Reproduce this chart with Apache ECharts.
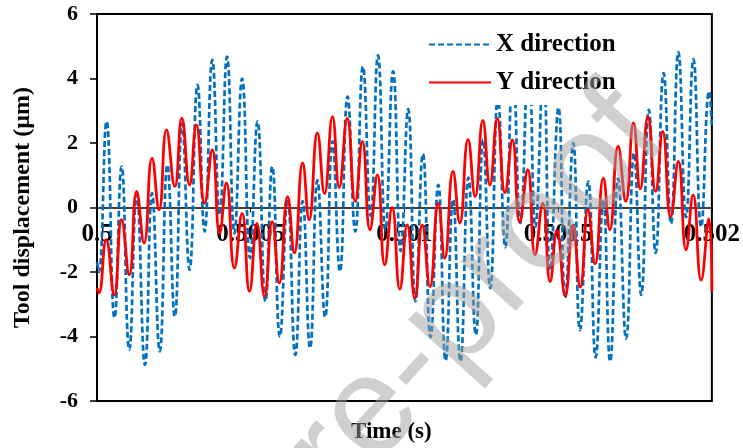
<!DOCTYPE html>
<html>
<head>
<meta charset="utf-8">
<script src="https://cdn.jsdelivr.net/npm/echarts@6/dist/echarts.min.js"></script>
<style>
  html, body { margin: 0; padding: 0; background: #fff; }
  #chart { width: 743px; height: 448px; }
</style>
</head>
<body>
<div id="chart"></div>
<script>
// X direction: peaks and troughs (time s, displacement um)
var xTime = [0.500000, 0.500006, 0.500031, 0.500057, 0.500080, 0.500105, 0.500129, 0.500156,
  0.500179, 0.500204, 0.500229, 0.500253, 0.500277, 0.500301, 0.500327, 0.500350,
  0.500375, 0.500399, 0.500423, 0.500447, 0.500472, 0.500498, 0.500522, 0.500548,
  0.500570, 0.500595, 0.500620, 0.500645, 0.500669, 0.500693, 0.500717, 0.500742,
  0.500766, 0.500790, 0.500815, 0.500840, 0.500865, 0.500890, 0.500914, 0.500938,
  0.500963, 0.500988, 0.501012, 0.501036, 0.501060, 0.501085, 0.501110, 0.501134,
  0.501158, 0.501182, 0.501208, 0.501232, 0.501256, 0.501279, 0.501304, 0.501328,
  0.501353, 0.501377, 0.501404, 0.501426, 0.501452, 0.501474, 0.501501, 0.501523,
  0.501549, 0.501571, 0.501598, 0.501622, 0.501647, 0.501669, 0.501695, 0.501721,
  0.501747, 0.501770, 0.501795, 0.501817, 0.501843, 0.501867, 0.501891, 0.501916,
  0.501940, 0.501965, 0.501991, 0.502000];
var xDisp = [-1.7, -2.0, 2.67, -3.42, 1.27, -4.41, 0.40, -4.88,
  0.45, -4.46, 1.32, -3.38, 2.6, -1.93, 3.8, -0.74,
  4.58, -0.23, 4.68, -0.8, 4.0, -1.57, 2.67, -2.91,
  1.27, -4.0, 0.25, -4.57, 0.2, -4.36, 0.84, -3.4,
  2.05, -1.98, 3.44, -0.74, 4.37, -0.25, 4.72, -0.7,
  4.22, -1.35, 3.05, -2.91, 1.66, -4.02, 0.7, -4.75,
  0.25, -4.77, 0.93, -3.95, 2.1, -2.5, 3.4, -1.23,
  4.35, -0.48, 4.7, -0.6, 4.25, -1.93, 3.1, -2.8,
  2.0, -3.8, 0.8, -4.65, 0.25, -4.77, 0.9, -4.07,
  1.69, -2.71, 3.03, -1.41, 4.17, -0.5, 4.82, -0.3,
  4.6, -0.6, 3.6, 2.5];

// Y direction
var yTime = [0.500000, 0.500006, 0.500030, 0.500056, 0.500080, 0.500105, 0.500129, 0.500153,
  0.500179, 0.500202, 0.500226, 0.500253, 0.500276, 0.500301, 0.500323, 0.500350,
  0.500375, 0.500399, 0.500421, 0.500447, 0.500472, 0.500496, 0.500520, 0.500545,
  0.500570, 0.500593, 0.500620, 0.500642, 0.500669, 0.500690, 0.500717, 0.500740,
  0.500766, 0.500788, 0.500814, 0.500840, 0.500863, 0.500888, 0.500912, 0.500936,
  0.500960, 0.500985, 0.501009, 0.501034, 0.501058, 0.501083, 0.501110, 0.501131,
  0.501158, 0.501180, 0.501207, 0.501230, 0.501255, 0.501278, 0.501302, 0.501327,
  0.501351, 0.501375, 0.501401, 0.501425, 0.501450, 0.501474, 0.501496, 0.501523,
  0.501548, 0.501572, 0.501597, 0.501620, 0.501647, 0.501668, 0.501695, 0.501720,
  0.501745, 0.501767, 0.501792, 0.501817, 0.501840, 0.501866, 0.501891, 0.501916,
  0.501939, 0.501965, 0.501990, 0.502000];
var yDisp = [-2.5, -2.65, -1.0, -2.71, -0.38, -2.09, 0.5, -1.1,
  1.53, -0.07, 2.41, 0.65, 2.77, 0.7, 2.56, 0.13,
  1.79, -0.8, 0.76, -1.88, -0.18, -2.6, -0.49, -2.76,
  -0.44, -2.34, 0.34, -1.41, 1.38, -0.38, 2.31, 0.43,
  2.82, 0.62, 2.76, 0.19, 2.05, -0.69, 1.01, -1.78,
  0.0, -2.53, -0.54, -2.81, -0.54, -2.46, 0.13, -1.57,
  1.12, -0.48, 2.11, 0.34, 2.7, 0.7, 2.76, 0.46,
  2.1, -0.45, 1.17, -1.47, 0.13, -2.3, -0.7, -2.74,
  -0.54, -2.47, -0.07, -1.75, 0.91, -0.69, 1.9, 0.19,
  2.62, 0.58, 2.81, 0.5, 2.36, -0.28, 1.43, -1.31,
  0.39, -2.25, -0.35, -2.6];

var xTicks = [0.5, 0.5005, 0.501, 0.5015, 0.502];

function pairs(t, v) {
  var out = [];
  for (var i = 0; i < t.length; i++) out.push([t[i], v[i]]);
  return out;
}

var serif = '"Liberation Serif", "Times New Roman", serif';
var chart = echarts.init(document.getElementById('chart'));

var option = {
  animation: false,
  grid: {
    left: 97, right: 29, top: 14, bottom: 47,
    show: true, borderColor: '#000', borderWidth: 2, backgroundColor: 'transparent'
  },
  legend: {
    orient: 'vertical',
    left: 422, top: 22,
    padding: [10, 8, 10, 6],
    itemWidth: 62, itemHeight: 14, itemGap: 13,
    backgroundColor: '#fff',
    itemStyle: { opacity: 0 },
    textStyle: { fontFamily: serif, fontWeight: 'bold', fontSize: 25, color: '#000' },
    data: ['X direction', 'Y direction']
  },
  xAxis: {
    type: 'value',
    min: 0.5, max: 0.502, interval: 0.0005,
    // the axis sits on y = 0 (middle of the grid)
    offset: -193.5,
    axisLine: { onZero: false, lineStyle: { color: '#000', width: 1.5 } },
    axisTick: { show: true, length: 5, lineStyle: { color: '#000' } },
    splitLine: { show: false },
    axisLabel: {
      margin: 15,
      color: '#000', fontFamily: serif, fontWeight: 'bold', fontSize: 25,
      customValues: xTicks,
      formatter: function (v) { return String(parseFloat(v.toFixed(4))); }
    }
  },
  yAxis: {
    type: 'value',
    min: -6, max: 6, interval: 2,
    name: 'Tool displacement (\u00b5m)',
    nameLocation: 'middle', nameGap: 62,
    nameTextStyle: { fontFamily: serif, fontWeight: 'bold', fontSize: 24, color: '#000' },
    axisLine: { show: true, lineStyle: { color: '#000', width: 2 } },
    axisTick: { show: true, length: 7, lineStyle: { color: '#000', width: 1.5 } },
    splitLine: { show: false },
    axisLabel: { margin: 19, color: '#000', fontFamily: serif, fontWeight: 'bold', fontSize: 22 }
  },
  graphic: [
    {
      type: 'text', left: 351, top: 421,
      style: { text: 'Time (s)', fill: '#000', font: 'bold 23px ' + serif }
    },
    {
      type: 'text', x: 280, y: 515, rotation: 48 * Math.PI / 180, z: 100, silent: true,
      style: {
        text: 'Journal Pre-proof', fill: 'rgba(160,160,160,0.5)',
        font: '140px "Liberation Sans", Arial, sans-serif',
        textAlign: 'center', textVerticalAlign: 'middle'
      }
    }
  ],
  series: [
    {
      name: 'X direction', type: 'line', smooth: 0.5, symbol: 'none',
      lineStyle: { color: '#0070C0', width: 2.7, type: [6, 3] },
      itemStyle: { color: '#0070C0' },
      data: pairs(xTime, xDisp)
    },
    {
      name: 'Y direction', type: 'line', smooth: 0.5, symbol: 'none',
      lineStyle: { color: '#FF0000', width: 2.8 },
      itemStyle: { color: '#FF0000' },
      data: pairs(yTime, yDisp)
    }
  ]
};
chart.setOption(option);
</script>
</body>
</html>
